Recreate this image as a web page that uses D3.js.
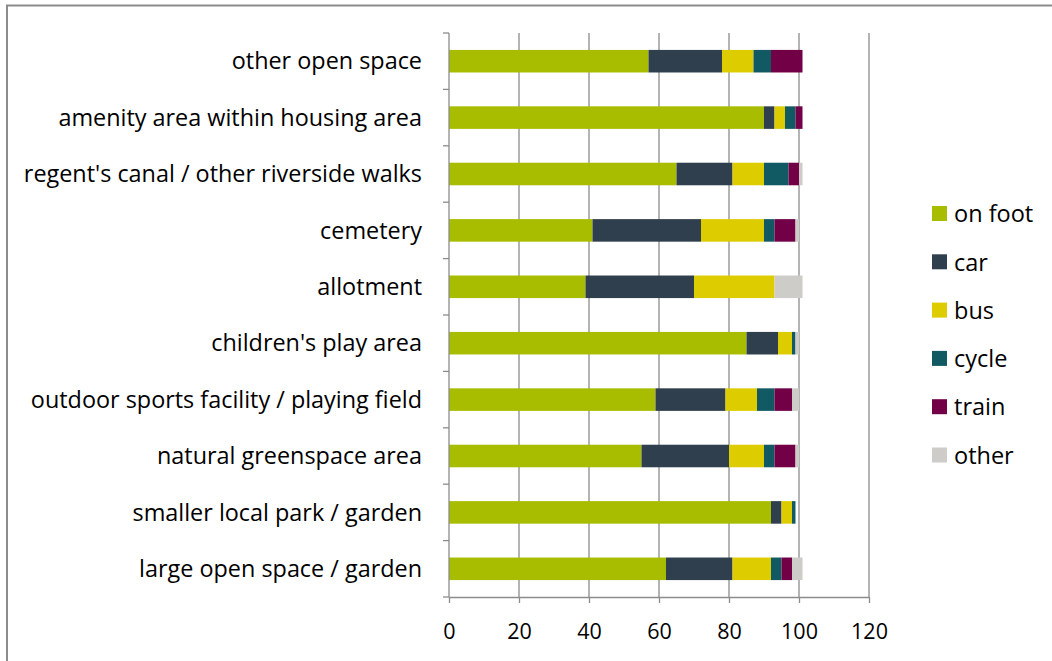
<!DOCTYPE html>
<html>
<head>
<meta charset="utf-8">
<script src="https://cdn.jsdelivr.net/npm/d3@7"></script>
<style>
  body { margin: 0; background: #fff; overflow: hidden; }
  text { font-family: "Open Sans", Lato, sans-serif; fill: #000; }
</style>
</head>
<body>
<script>
// chart size
var w = 1052;
var h = 661;

// categories, top to bottom
var categories = [
  "other open space",
  "amenity area within housing area",
  "regent's canal / other riverside walks",
  "cemetery",
  "allotment ",
  "children's play area",
  "outdoor sports facility / playing field",
  "natural greenspace area",
  "smaller local park / garden",
  "large open space / garden"
];

var modes = ["on foot", "car", "bus", "cycle", "train", "other"];
var modeColors = ["#a9bd00", "#2f3f4d", "#ddcc00", "#125a63", "#720047", "#cdccc8"];

// values per mode, same order as categories
var onFoot = [57, 90, 65, 41, 39, 85, 59, 55, 92, 62];
var car    = [21,  3, 16, 31, 31,  9, 20, 25,  3, 19];
var bus    = [ 9,  3,  9, 18, 23,  4,  9, 10,  3, 11];
var cycle  = [ 5,  3,  7,  3,  0,  1,  5,  3,  1,  3];
var train  = [ 9,  2,  3,  6,  0,  0,  5,  6,  0,  3];
var other  = [ 0,  0,  1,  1,  8,  1,  2,  1,  0,  3];

var xTicks = [0, 20, 40, 60, 80, 100, 120];

var series = [onFoot, car, bus, cycle, train, other];

// build table rows for the stack
var rows = categories.map(function(c, i) {
  var r = { name: c };
  modes.forEach(function(m, k) { r[m] = series[k][i]; });
  return r;
});

var svg = d3.select("body").append("svg")
  .attr("width", w)
  .attr("height", h)
  .style("display", "block");

// outer frame (only top and left edges fall inside the picture)
svg.append("rect")
  .attr("x", 7).attr("y", 5.5)
  .attr("width", w + 20).attr("height", h + 20)
  .attr("fill", "none")
  .attr("stroke", "#8c8c8c")
  .attr("stroke-width", 2);

var plot = { left: 449, right: 869, top: 33, bottom: 597 };

var x = d3.scaleLinear()
  .domain([0, 120])
  .range([plot.left, plot.right]);

var y = d3.scaleBand()
  .domain(categories)
  .range([plot.top, plot.bottom])
  .paddingInner(0.6)
  .paddingOuter(0.3);

// vertical gridlines
svg.append("g")
  .selectAll("line")
  .data(xTicks.slice(1))
  .enter().append("line")
    .attr("x1", function(d) { return x(d); })
    .attr("x2", function(d) { return x(d); })
    .attr("y1", plot.top)
    .attr("y2", plot.bottom)
    .attr("stroke", "#8c8c8c")
    .attr("stroke-width", 1.3);

var stack = d3.stack().keys(modes);
var stacked = stack(rows);

svg.append("g")
  .selectAll("g")
  .data(stacked)
  .enter().append("g")
    .attr("fill", function(d, i) { return modeColors[i]; })
  .selectAll("rect")
  .data(function(d) { return d; })
  .enter().append("rect")
    .attr("x", function(d) { return x(d[0]); })
    .attr("width", function(d) { return x(d[1]) - x(d[0]); })
    .attr("y", function(d) { return y(d.data.name); })
    .attr("height", y.bandwidth());

// y axis line with tick marks at band boundaries
var yAxis = svg.append("g");
yAxis.append("line")
  .attr("x1", plot.left).attr("x2", plot.left)
  .attr("y1", plot.top).attr("y2", plot.bottom)
  .attr("stroke", "#8c8c8c").attr("stroke-width", 1.3);

var step = (plot.bottom - plot.top) / categories.length;
yAxis.selectAll(".tk")
  .data(d3.range(categories.length + 1))
  .enter().append("line")
    .attr("x1", plot.left - 6).attr("x2", plot.left)
    .attr("y1", function(d) { return plot.top + d * step; })
    .attr("y2", function(d) { return plot.top + d * step; })
    .attr("stroke", "#8c8c8c").attr("stroke-width", 1.3);

yAxis.selectAll("text")
  .data(categories)
  .enter().append("text")
    .attr("x", plot.left - 27)
    .attr("y", function(d) { return y(d) + y.bandwidth() / 2; })
    .attr("dy", "0.35em")
    .attr("text-anchor", "end")
    .style("font-size", "23.4px")
    .text(function(d) { return d; });

// x axis
var xAxis = svg.append("g")
  .attr("transform", "translate(0," + plot.bottom + ")")
  .call(d3.axisBottom(x).tickValues(xTicks).tickSize(6).tickPadding(21).tickSizeOuter(0));
xAxis.select(".domain").attr("stroke", "#8c8c8c").attr("stroke-width", 1.3);
xAxis.selectAll(".tick line").attr("stroke", "#8c8c8c").attr("stroke-width", 1.3);
xAxis.selectAll(".tick text")
  .style("font-size", "21.5px")
  .style("font-family", "'Open Sans', sans-serif")
  .attr("fill", "#000");

// legend
var legend = svg.append("g")
  .attr("transform", "translate(932,206)");

var lg = legend.selectAll("g")
  .data(modes)
  .enter().append("g")
    .attr("transform", function(d, i) { return "translate(0," + (i * 48.3) + ")"; });

lg.append("rect")
  .attr("width", 15).attr("height", 15)
  .attr("fill", function(d, i) { return modeColors[i]; });

lg.append("text")
  .attr("x", 22)
  .attr("y", 8)
  .attr("dy", "0.35em")
  .style("font-size", "23.5px")
  .text(function(d) { return d; });
</script>
</body>
</html>
